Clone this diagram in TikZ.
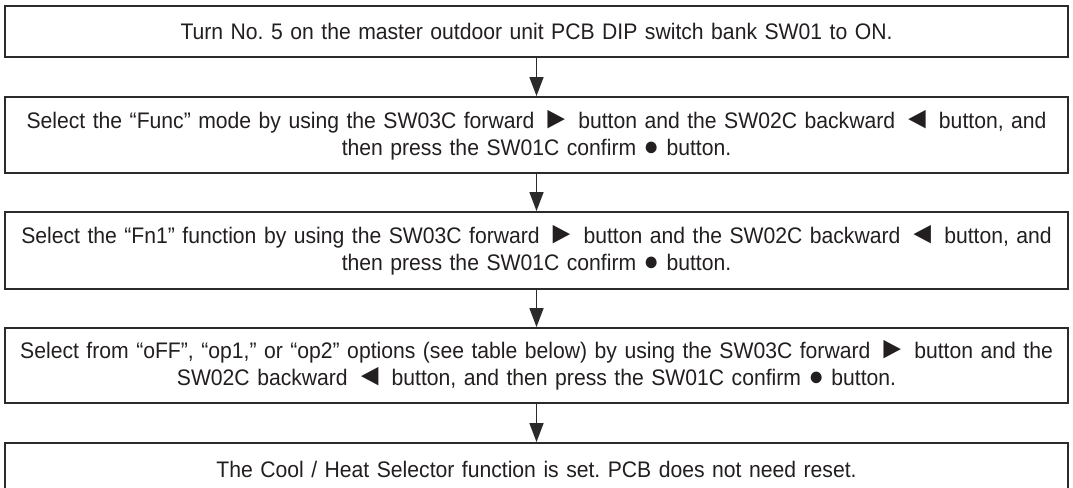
\documentclass[tikz,border=0pt]{standalone}
\usepackage{fontspec}
\setmainfont{Liberation Sans}[FakeStretch=0.94]
\usetikzlibrary{arrows.meta}
\definecolor{stepline}{HTML}{2B2B2B}
\definecolor{steptext}{HTML}{231F20}
\newcommand\fwdbtn{{\fontsize{31}{27}\selectfont ►}}
\newcommand\backbtn{{\fontsize{31}{27}\selectfont ◄}}
\newcommand\okbtn{{\fontsize{27}{27}\selectfont ●}}

\begin{document}
\frenchspacing
\begin{tikzpicture}[font=\fontsize{22.5}{27}\selectfont,
      stepbox/.style={draw=stepline, line width=1.9pt, fill=white, align=center, text=steptext,
                      minimum width=1063pt, text width=1055pt, inner sep=0pt},
      flow/.style={-{Triangle[length=19pt, width=14pt]}, line width=1.5pt, stepline}]
      \useasboundingbox (0,0) rectangle (1073pt,-487pt);
      \node[stepbox, minimum height=51pt] (turn) at (536.5pt,-31.5pt) {Turn No. 5 on the master outdoor unit PCB DIP switch bank SW01 to ON.};
      \node[stepbox, minimum height=76pt] (func) at (536.5pt,-135pt) {Select the “Func” mode by using the SW03C forward \fwdbtn{} button and the SW02C backward \backbtn{} button, and\\ then press the SW01C confirm \okbtn{} button.};
      \node[stepbox, minimum height=77pt] (fn) at (536.5pt,-250.5pt) {Select the “Fn1” function by using the SW03C forward \fwdbtn{} button and the SW02C backward \backbtn{} button, and\\ then press the SW01C confirm \okbtn{} button.};
      \node[stepbox, minimum height=75pt] (opt) at (536.5pt,-365.5pt) {Select from “oFF”, “op1,” or “op2” options (see table below) by using the SW03C forward \fwdbtn{} button and the\\ SW02C backward \backbtn{} button, and then press the SW01C confirm \okbtn{} button.};
      \node[stepbox, minimum height=52pt] (done) at (536.5pt,-469pt) {The Cool / Heat Selector function is set. PCB does not need reset.};
      \draw[flow] (turn)--(func); \draw[flow] (func)--(fn); \draw[flow] (fn)--(opt); \draw[flow] (opt)--(done);
    \end{tikzpicture}
\end{document}
